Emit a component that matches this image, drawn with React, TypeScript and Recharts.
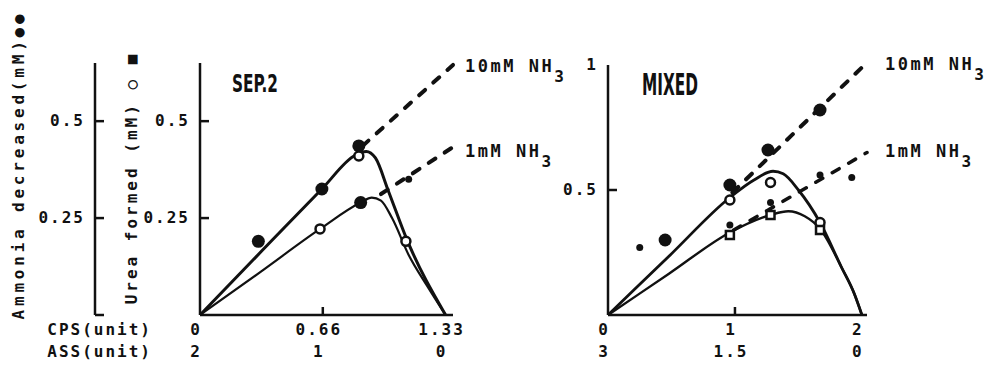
import React from "react";
import { ComposedChart, Line, Scatter, XAxis, YAxis } from "recharts";

// ---- SEP.2 panel (CPS 0..1.33 / ASS 2..0) ----
const sepXTicks = [0, 0.665, 1.33];
const sepCpsLabels = ["0", "0.66", "1.33"];
const sepAssLabels = ["2", "1", "0"];
const sepYTicks = [0.25, 0.5];
const sepYLabels = ["0.25", "0.5"];
const sepNh3Ticks = [0, 0.25, 0.5];
const sepNh3Labels = ["", "0.25", "0.5"];

const sepSolid10: [number, number][] = [
  [0, 0], [0.33, 0.163], [0.66, 0.325], [0.84, 0.412], [0.9, 0.422],
  [0.95, 0.405], [1.02, 0.32], [1.12, 0.195], [1.33, 0],
];
const sepSolid1: [number, number][] = [
  [0, 0], [0.33, 0.112], [0.65, 0.222], [0.87, 0.29], [0.93, 0.303],
  [0.98, 0.295], [1.04, 0.25], [1.13, 0.155], [1.23, 0.075], [1.33, 0],
];
const sepDash10: [number, number][] = [[0.88, 0.436], [1.37, 0.645]];
const sepDash1: [number, number][] = [[0.98, 0.312], [1.36, 0.43]];

const sepNh3Big: [number, number][] = [[0.316, 0.19], [0.66, 0.325], [0.86, 0.436], [0.87, 0.29]];
const sepNh3Small: [number, number][] = [[1.13, 0.35]];
const sepUreaOpen: [number, number][] = [[0.86, 0.41], [1.115, 0.19], [0.65, 0.222]];

// ---- MIXED panel (CPS 0..2 / ASS 3..0) ----
const mixXTicks = [0, 1, 2];
const mixCpsLabels = ["0", "1", "2"];
const mixAssLabels = ["3", "1.5", "0"];
const mixYTicks = [0.5, 1];
const mixYLabels = ["0.5", "1"];

const mixSolid10: [number, number][] = [
  [0, 0], [0.48, 0.235], [0.96, 0.47], [1.15, 0.54], [1.3, 0.575],
  [1.38, 0.565], [1.5, 0.5], [1.67, 0.37], [1.84, 0.19], [1.94, 0.085], [2, 0],
];
const mixSolid1: [number, number][] = [
  [0, 0], [0.48, 0.165], [0.96, 0.33], [1.28, 0.4], [1.42, 0.415],
  [1.55, 0.395], [1.67, 0.345], [1.84, 0.19], [1.94, 0.085], [2, 0],
];
const mixDash10: [number, number][] = [[0.98, 0.49], [2.02, 1.0]];
const mixDash1: [number, number][] = [[0.99, 0.34], [2.04, 0.65]];

const mixNh3Big: [number, number][] = [[0.45, 0.3], [0.96, 0.52], [1.26, 0.66], [1.67, 0.82]];
const mixNh3Small: [number, number][] = [[0.25, 0.27], [0.96, 0.36], [1.28, 0.45], [1.67, 0.56], [1.92, 0.55]];
const mixUreaOpen: [number, number][] = [[0.96, 0.46], [1.28, 0.53], [1.67, 0.37]];
const mixUreaSquare: [number, number][] = [[0.96, 0.32], [1.28, 0.4], [1.67, 0.34]];

const INK = "#111";
const MONO = "'DejaVu Sans Mono', 'Liberation Mono', monospace";

const pts = (a: [number, number][]) => a.map(([x, y]) => ({ x, y }));

const BigDot = (p: any) => <circle cx={p.cx} cy={p.cy} r={6.5} fill={INK} />;
const SmallDot = (p: any) => <circle cx={p.cx} cy={p.cy} r={3.5} fill={INK} />;
const OpenDot = (p: any) => (
  <circle cx={p.cx} cy={p.cy} r={4.5} fill="#fff" stroke={INK} strokeWidth={2.5} />
);
const OpenSquare = (p: any) => (
  <rect x={p.cx - 4} y={p.cy - 4} width={8} height={8} fill="#fff" stroke={INK} strokeWidth={2.5} />
);

const tickText = { fontFamily: MONO, fontWeight: 700, fontSize: 16, letterSpacing: 2, fill: INK };

function makeXTick(ticks: number[], cps: string[], ass: string[], markIdx: number) {
  return (props: any) => {
    const { x, y, payload } = props;
    const i = ticks.indexOf(payload.value);
    return (
      <g>
        {i === markIdx && <line x1={x} x2={x} y1={y} y2={y - 8} stroke={INK} strokeWidth={2.5} />}
        <text x={x - 4} y={y + 20} textAnchor="middle" {...tickText}>{cps[i]}</text>
        <text x={x - 4} y={y + 42} textAnchor="middle" {...tickText}>{ass[i]}</text>
      </g>
    );
  };
}

function makeYTick(ticks: number[], labels: string[], markTop: boolean) {
  return (props: any) => {
    const { x, y, payload } = props;
    const i = ticks.indexOf(payload.value);
    const isTop = i === ticks.length - 1 && !markTop;
    return (
      <g>
        {!isTop && <line x1={x} x2={x + 9} y1={y} y2={y} stroke={INK} strokeWidth={2.5} />}
        <text x={x - 10} y={y + 5} textAnchor="end" {...tickText}>{labels[i]}</text>
      </g>
    );
  };
}

const axisLine = { stroke: INK, strokeWidth: 2.5 };

function SepPanel() {
  return (
    <ComposedChart width={560} height={370} margin={{ top: 63, right: 107, bottom: 0, left: 0 }}>
      <XAxis
        type="number" dataKey="x" domain={[0, 1.33]} ticks={sepXTicks} height={55}
        axisLine={axisLine} tickLine={false} tickSize={0} tickMargin={0}
        tick={makeXTick(sepXTicks, sepCpsLabels, sepAssLabels, 1)} interval={0}
      />
      {/* inner axis: urea formed */}
      <YAxis
        yAxisId="a-urea" type="number" dataKey="y" domain={[0, 0.65]} ticks={sepYTicks} width={105}
        axisLine={axisLine} tickLine={false} tickSize={0} tickMargin={0}
        tick={makeYTick(sepYTicks, sepYLabels, true)} interval={0}
      />
      {/* outer axis: ammonia decreased */}
      <YAxis
        yAxisId="b-nh3" type="number" dataKey="y" domain={[0, 0.65]} ticks={sepNh3Ticks} width={95}
        axisLine={axisLine} tickLine={false} tickSize={0} tickMargin={0}
        tick={makeYTick(sepNh3Ticks, sepNh3Labels, true)} interval={0}
      />
      <Line yAxisId="a-urea" data={pts(sepSolid10)} dataKey="y" type="monotone" stroke={INK} strokeWidth={3} dot={false} isAnimationActive={false} />
      <Line yAxisId="a-urea" data={pts(sepSolid1)} dataKey="y" type="monotone" stroke={INK} strokeWidth={2.2} dot={false} isAnimationActive={false} />
      <Line yAxisId="b-nh3" data={pts(sepDash10)} dataKey="y" type="linear" stroke={INK} strokeWidth={4} strokeDasharray="8 11" strokeLinecap="round" dot={false} isAnimationActive={false} />
      <Line yAxisId="b-nh3" data={pts(sepDash1)} dataKey="y" type="linear" stroke={INK} strokeWidth={4} strokeDasharray="8 11" strokeLinecap="round" dot={false} isAnimationActive={false} />
      <Scatter yAxisId="b-nh3" data={pts(sepNh3Big)} dataKey="y" shape={BigDot} isAnimationActive={false} />
      <Scatter yAxisId="b-nh3" data={pts(sepNh3Small)} dataKey="y" shape={SmallDot} isAnimationActive={false} />
      <Scatter yAxisId="a-urea" data={pts(sepUreaOpen)} dataKey="y" shape={OpenDot} isAnimationActive={false} />
    </ComposedChart>
  );
}

function MixPanel() {
  return (
    <ComposedChart width={433} height={370} margin={{ top: 65, right: 126, bottom: 0, left: 0 }}>
      <XAxis
        type="number" dataKey="x" domain={[0, 2]} ticks={mixXTicks} height={55}
        axisLine={axisLine} tickLine={false} tickSize={0} tickMargin={0}
        tick={makeXTick(mixXTicks, mixCpsLabels, mixAssLabels, 1)} interval={0}
      />
      <YAxis
        type="number" dataKey="y" domain={[0, 1]} ticks={mixYTicks} width={48}
        axisLine={axisLine} tickLine={false} tickSize={0} tickMargin={0}
        tick={makeYTick(mixYTicks, mixYLabels, false)} interval={0}
      />
      <Line data={pts(mixSolid10)} dataKey="y" type="monotone" stroke={INK} strokeWidth={2.8} dot={false} isAnimationActive={false} />
      <Line data={pts(mixSolid1)} dataKey="y" type="monotone" stroke={INK} strokeWidth={2.4} dot={false} isAnimationActive={false} />
      <Line data={pts(mixDash10)} dataKey="y" type="linear" stroke={INK} strokeWidth={4} strokeDasharray="8 11" strokeLinecap="round" dot={false} isAnimationActive={false} />
      <Line data={pts(mixDash1)} dataKey="y" type="linear" stroke={INK} strokeWidth={3.5} strokeDasharray="8 11" strokeLinecap="round" dot={false} isAnimationActive={false} />
      <Scatter data={pts(mixNh3Big)} dataKey="y" shape={BigDot} isAnimationActive={false} />
      <Scatter data={pts(mixNh3Small)} dataKey="y" shape={SmallDot} isAnimationActive={false} />
      <Scatter data={pts(mixUreaOpen)} dataKey="y" shape={OpenDot} isAnimationActive={false} />
      <Scatter data={pts(mixUreaSquare)} dataKey="y" shape={OpenSquare} isAnimationActive={false} />
    </ComposedChart>
  );
}

const labelText = { fontFamily: MONO, fontWeight: 700, fontSize: 17, letterSpacing: 2.5, fill: INK };
const titleText = {
  fontFamily: "'Liberation Sans Narrow', 'DejaVu Sans Condensed', 'Liberation Sans', sans-serif",
  fontWeight: 700,
  fill: INK,
};

function NH3({ x, y, text }: { x: number; y: number; text: string }) {
  return (
    <text x={x} y={y} {...labelText}>
      {text} NH<tspan dy={10} fontSize={16}>3</tspan>
    </text>
  );
}

export default function App() {
  return (
    <div style={{ position: "absolute", left: 0, top: 0, width: 993, height: 370, background: "#fff" }}>
      <div style={{ position: "absolute", left: 0, top: 0 }}>
        <SepPanel />
      </div>
      <div style={{ position: "absolute", left: 560, top: 0 }}>
        <MixPanel />
      </div>
      <svg width={993} height={370} style={{ position: "absolute", left: 0, top: 0, pointerEvents: "none" }}>
        <text transform="translate(24,165) rotate(-90)" textAnchor="middle" {...labelText} fontSize={16} letterSpacing={3.8}>
          Ammonia decreased(mM)●●
        </text>
        <text transform="translate(137,178) rotate(-90)" textAnchor="middle" {...labelText} fontSize={16} letterSpacing={3}>
          Urea formed (mM) ○ ■
        </text>
        <text x={152} y={335} textAnchor="end" {...tickText}>CPS(unit)</text>
        <text x={152} y={357} textAnchor="end" {...tickText}>ASS(unit)</text>
        <text x={232} y={92} fontSize={24} textLength={46} lengthAdjust="spacingAndGlyphs" {...titleText}>SEP.2</text>
        <text x={642} y={95} fontSize={30} textLength={56} lengthAdjust="spacingAndGlyphs" {...titleText}>MIXED</text>
        <NH3 x={465} y={72} text="10mM" />
        <NH3 x={465} y={157} text="1mM" />
        <NH3 x={885} y={70} text="10mM" />
        <NH3 x={885} y={157} text="1mM" />
      </svg>
    </div>
  );
}
